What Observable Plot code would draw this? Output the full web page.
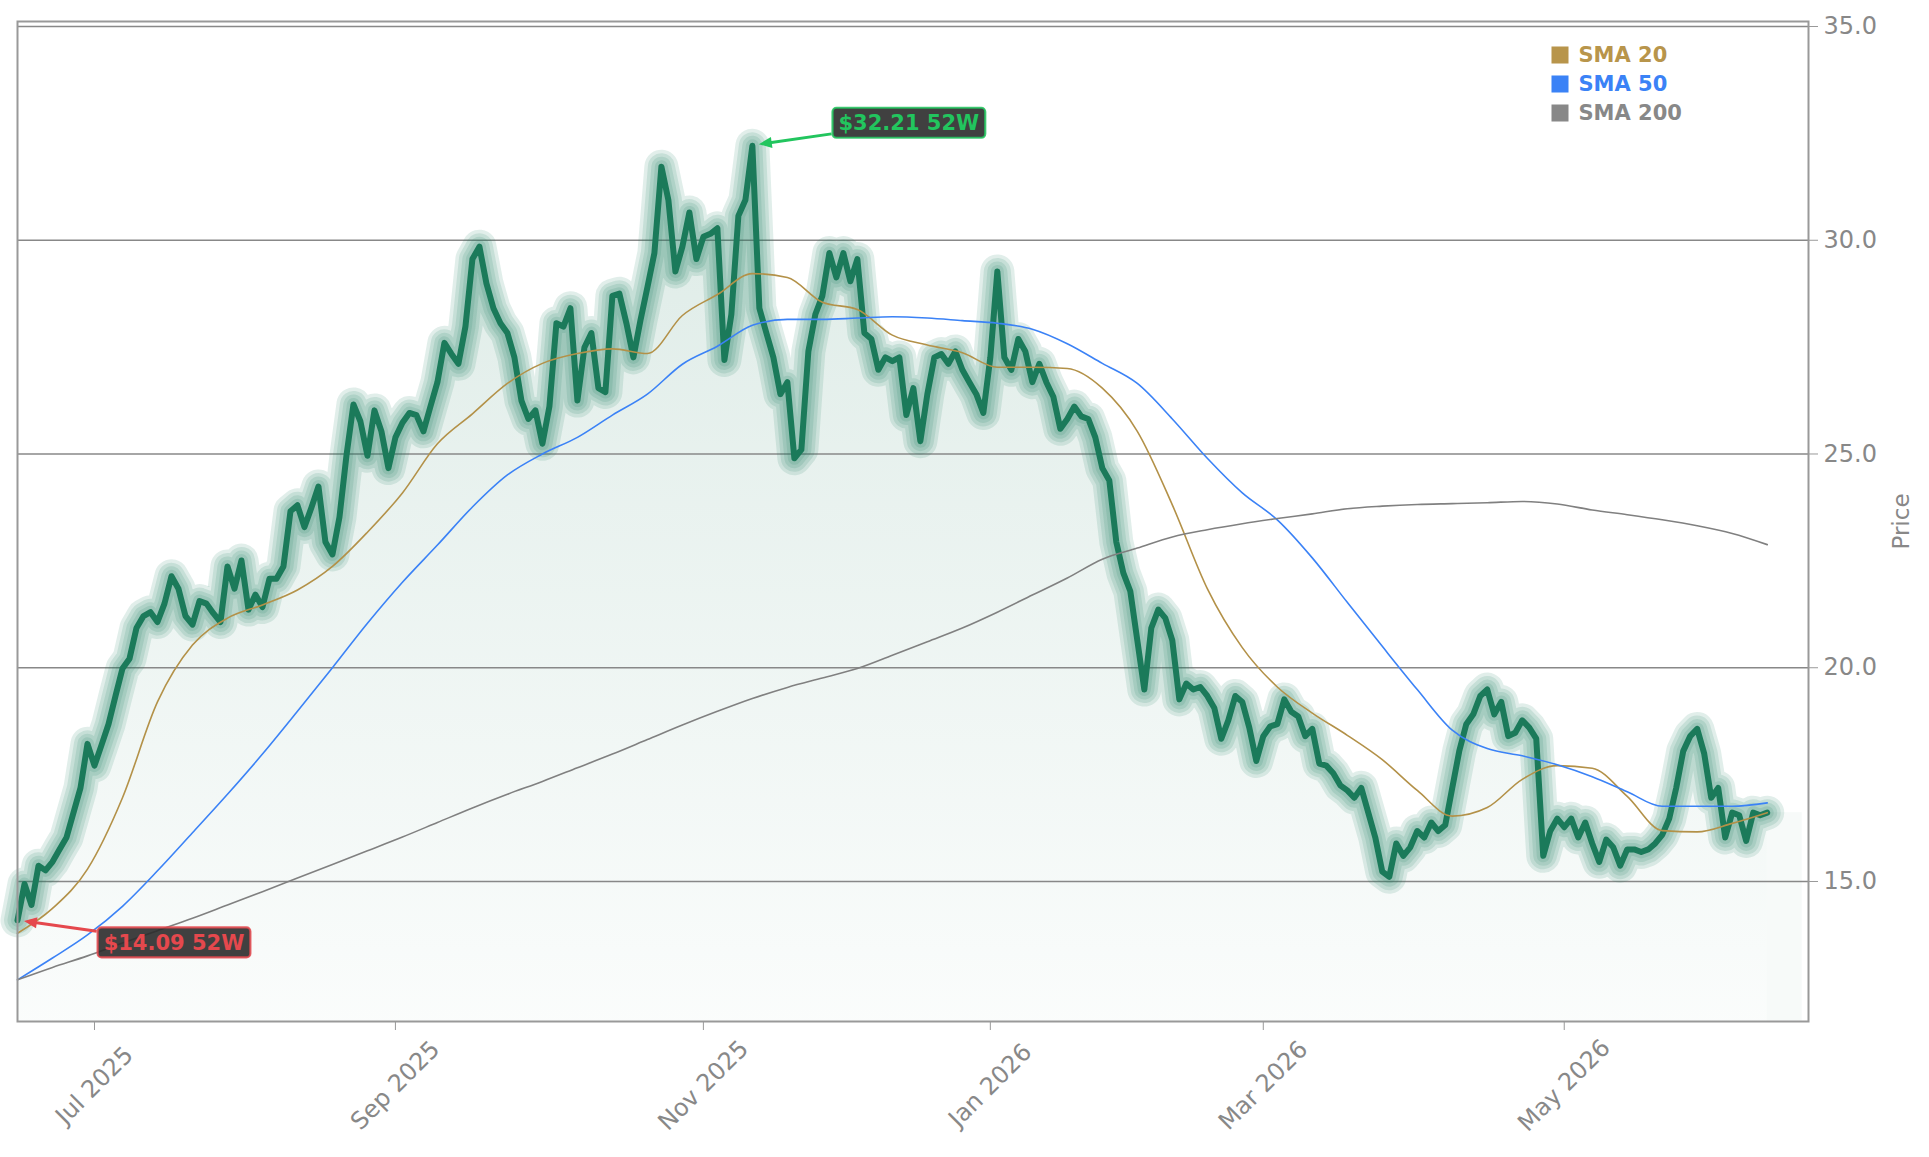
<!DOCTYPE html>
<html>
<head>
<meta charset="utf-8">
<script src="https://cdn.jsdelivr.net/npm/d3@7"></script>
<script src="https://cdn.jsdelivr.net/npm/@observablehq/plot@0.6"></script>
<style>
  html, body { margin: 0; padding: 0; background: #fff; }
  #chart svg { display: block; }
</style>
</head>
<body>
<div id="chart"></div>
<script>
// Daily closing prices, one per trading session (session 0 = Jun 13 2025)
const closes = [
  14.09, 14.94, 14.45, 15.37, 15.26, 15.46, 15.75, 16.03, 16.61, 17.19,
  18.22, 17.71, 18.19, 18.68, 19.34, 19.98, 20.21, 20.93, 21.21, 21.30,
  21.07, 21.50, 22.14, 21.85, 21.21, 21.01, 21.56, 21.50, 21.27, 21.07,
  22.37, 21.85, 22.51, 21.36, 21.71, 21.42, 22.08, 22.08, 22.37, 23.66,
  23.80, 23.29, 23.75, 24.24, 22.94, 22.65, 23.52, 24.96, 26.16, 25.76,
  24.96, 26.02, 25.53, 24.67, 25.39, 25.73, 25.96, 25.91, 25.53, 26.11,
  26.68, 27.60, 27.34, 27.11, 27.98, 29.56, 29.85, 28.99, 28.41, 28.06,
  27.83, 27.26, 26.25, 25.82, 26.02, 25.24, 26.11, 28.06, 27.98, 28.41,
  26.25, 27.49, 27.83, 26.54, 26.45, 28.70, 28.75, 28.06, 27.26, 28.12,
  28.90, 29.70, 31.72, 30.94, 29.27, 29.85, 30.65, 29.56, 30.08, 30.15,
  30.28, 27.20, 28.27, 30.57, 30.94, 32.21, 28.41, 27.83, 27.26, 26.40,
  26.68, 24.90, 25.10, 27.40, 28.27, 28.70, 29.70, 29.13, 29.70, 29.04,
  29.56, 27.83, 27.69, 26.97, 27.26, 27.17, 27.26, 25.91, 26.54, 25.30,
  26.40, 27.26, 27.34, 27.11, 27.40, 26.97, 26.68, 26.40, 25.96, 27.26,
  29.27, 27.26, 26.97, 27.69, 27.40, 26.68, 27.11, 26.68, 26.34, 25.59,
  25.82, 26.11, 25.88, 25.82, 25.39, 24.67, 24.38, 22.94, 22.22, 21.79,
  20.64, 19.49, 20.93, 21.36, 21.16, 20.64, 19.26, 19.63, 19.49, 19.55,
  19.34, 19.06, 18.34, 18.77, 19.34, 19.20, 18.60, 17.82, 18.40, 18.63,
  18.68, 19.26, 18.97, 18.86, 18.40, 18.57, 17.76, 17.71, 17.53, 17.25,
  17.13, 16.96, 17.19, 16.61, 16.03, 15.23, 15.11, 15.89, 15.60, 15.80,
  16.18, 16.03, 16.38, 16.18, 16.32, 17.19, 18.05, 18.68, 18.91, 19.34,
  19.49, 18.91, 19.20, 18.40, 18.48, 18.77, 18.60, 18.34, 15.60, 16.18,
  16.47, 16.27, 16.47, 16.03, 16.38, 15.89, 15.46, 15.98, 15.80, 15.37,
  15.75, 15.75, 15.69, 15.75, 15.89, 16.09, 16.47, 17.19, 18.05, 18.40,
  18.57, 17.99, 16.96, 17.19, 16.03, 16.61, 16.55, 15.95, 16.61, 16.55,
  16.61
];

// Moving averages, sampled every 5 sessions (session 0, 5, 10, ... 250)
const smaStep = 5;
const sma20 = [
  13.79, 14.37, 15.29, 16.96, 19.20, 20.53, 21.16, 21.47, 21.82, 22.37,
  23.17, 24.09, 25.24, 25.94, 26.65, 27.12, 27.35, 27.46, 27.35, 28.24,
  28.73, 29.22, 29.13, 28.55, 28.38, 27.78, 27.55, 27.37, 27.03, 27.03,
  27.00, 26.54, 25.53, 23.81, 21.85, 20.47, 19.55, 18.94, 18.42, 17.85,
  17.13, 16.53, 16.73, 17.39, 17.71, 17.65, 16.99, 16.19, 16.16, 16.36,
  16.61
];
const sma50 = [
  12.70, 13.21, 13.75, 14.42, 15.25, 16.14, 17.04, 17.98, 18.98, 20.00,
  21.04, 22.00, 22.87, 23.76, 24.51, 25.00, 25.39, 25.91, 26.40, 27.10,
  27.52, 28.01, 28.15, 28.15, 28.18, 28.21, 28.18, 28.12, 28.06, 27.92,
  27.58, 27.12, 26.65, 25.82, 24.90, 24.09, 23.46, 22.57, 21.53, 20.50,
  19.49, 18.54, 18.11, 17.94, 17.73, 17.45, 17.10, 16.76, 16.76, 16.76,
  16.84
];
const sma200 = [
  12.70, 12.99, 13.26, 13.56, 13.85, 14.14, 14.45, 14.76, 15.08, 15.40,
  15.72, 16.04, 16.38, 16.72, 17.04, 17.34, 17.66, 17.98, 18.32, 18.66,
  18.98, 19.28, 19.54, 19.76, 19.98, 20.29, 20.61, 20.93, 21.30, 21.70,
  22.10, 22.54, 22.80, 23.06, 23.23, 23.37, 23.49, 23.60, 23.72, 23.78,
  23.82, 23.84, 23.86, 23.89, 23.83, 23.69, 23.58, 23.46, 23.32, 23.14,
  22.88
];

// First session of each labelled month
const tickSessions = [11, 54, 98, 139, 178, 221];
const tickLabels = ["Jul 2025", "Sep 2025", "Nov 2025", "Jan 2026", "Mar 2026", "May 2026"];
const priceTicks = [15, 20, 25, 30, 35];

const legendNames = ["SMA 20", "SMA 50", "SMA 200"];
const legendColors = ["#b8954b", "#3b82f6", "#888888"];

const priceColor = "#1b7a5a";
const font = "DejaVu Sans, Liberation Sans, sans-serif";

const price = closes.map((v, i) => ({i, v}));
const smaSeries = (arr) => arr.map((v, k) => ({i: k * smaStep, v}));
const lastIdx = closes.length - 1;
const xMax = 255.9;
const yDomain = [11.725, 35.117];

// 52-week extremes
const hiIdx = d3.maxIndex(closes), loIdx = d3.minIndex(closes);
const extremes = [
  {i: hiIdx, v: closes[hiIdx], side: -1, color: "#22c55e", label: `$${closes[hiIdx].toFixed(2)} 52W`},
  {i: loIdx, v: closes[loIdx], side: 1, color: "#e5484d", label: `$${closes[loIdx].toFixed(2)} 52W`}
];

// Callout boxes with arrows for the extremes, placed through the plot scales
function callouts(index, scales, values, dims, context) {
  const doc = context.document;
  const g = d3.select(doc.createElementNS("http://www.w3.org/2000/svg", "g"));
  const ctx = doc.createElement("canvas").getContext("2d");
  ctx.font = "bold 21px 'DejaVu Sans'";
  for (const a of extremes) {
    const px = scales.x(a.i), py = scales.y(a.v);
    const cx = px + 157, cy = py + a.side * 22.5;
    const w = ctx.measureText(a.label).width + 12, h = 30;
    const dx = px - cx, dy = py - cy;
    const t = (w / 2 + 1) / Math.abs(dx);
    const sx = cx + dx * t, sy = cy + dy * t;
    const len = Math.hypot(px - sx, py - sy);
    const ux = (px - sx) / len, uy = (py - sy) / len;
    const tipX = px - ux * 7, tipY = py - uy * 7;
    const headL = 13, headW = 5.5;
    const bx = tipX - ux * headL, by = tipY - uy * headL;
    g.append("line")
      .attr("x1", sx).attr("y1", sy).attr("x2", bx + ux * 2).attr("y2", by + uy * 2)
      .attr("stroke", a.color).attr("stroke-width", 3);
    g.append("path")
      .attr("d", `M${tipX},${tipY}L${bx - uy * headW},${by + ux * headW}L${bx + uy * headW},${by - ux * headW}Z`)
      .attr("fill", a.color);
    g.append("rect")
      .attr("x", cx - w / 2).attr("y", cy - h / 2).attr("width", w).attr("height", h)
      .attr("rx", 4).attr("fill", "#2b2b2b").attr("fill-opacity", 0.9)
      .attr("stroke", a.color).attr("stroke-width", 2.2).attr("stroke-opacity", 0.85);
    g.append("text")
      .attr("x", cx).attr("y", cy).attr("dy", "0.36em")
      .attr("text-anchor", "middle")
      .attr("font-family", font).attr("font-weight", "bold").attr("font-size", 21)
      .attr("fill", a.color).text(a.label);
  }
  return g.node();
}

const glowWidths = [34, 27, 20, 13];

const marks = [
  // gradient fill under the price line
  Plot.areaY(price, {x: "i", y1: yDomain[0], y2: "v", fill: "url(#priceFill)"}),
  Plot.rectY([closes[lastIdx]], {x1: lastIdx, x2: 255, y1: yDomain[0], y2: d => d, fill: priceColor, fillOpacity: 0.035}),
  Plot.gridY(priceTicks, {stroke: "#888", strokeOpacity: 1, strokeWidth: 1.4}),
  // soft glow around the price line
  ...glowWidths.map(w => Plot.line(price, {x: "i", y: "v", stroke: priceColor, strokeOpacity: 0.13, strokeWidth: w, strokeLinejoin: "round", strokeLinecap: "round"})),
  Plot.line(price, {x: "i", y: "v", stroke: priceColor, strokeWidth: 6, strokeLinejoin: "round", strokeLinecap: "round"}),
  Plot.line(smaSeries(sma20), {x: "i", y: "v", stroke: "#b39148", strokeWidth: 1.6, curve: "monotone-x"}),
  Plot.line(smaSeries(sma50), {x: "i", y: "v", stroke: "#3b82f6", strokeWidth: 1.6, curve: "monotone-x"}),
  Plot.line(smaSeries(sma200), {x: "i", y: "v", stroke: "#808080", strokeWidth: 1.6, curve: "monotone-x"}),
  Plot.frame({stroke: "#999", strokeWidth: 2}),
  Plot.axisX(tickSessions, {tickSize: 9, tickFormat: () => "", stroke: "#999", label: null}),
  Plot.text(tickSessions, {x: d => d, frameAnchor: "bottom", dy: 64, rotate: -45, text: (d, k) => tickLabels[k],
    textAnchor: "middle", lineAnchor: "middle", fill: "#888", fontSize: 24}),
  Plot.axisY(priceTicks, {anchor: "right", tickSize: 9, tickPadding: 6, tickFormat: d => d.toFixed(1),
    stroke: "#999", fill: "#888", fontSize: 24, label: null}),
  Plot.text(["Price"], {frameAnchor: "right", dx: 93, rotate: -90, textAnchor: "middle", lineAnchor: "middle", fill: "#888", fontSize: 23}),
  callouts
];

// legend entries in the top-right corner of the frame
legendNames.forEach((name, k) => {
  marks.push(Plot.dot([name], {frameAnchor: "top-left", dx: 1542.5, dy: 33.5 + k * 29, symbol: "square", r: 9.6, fill: legendColors[k], stroke: null}));
  marks.push(Plot.text([name], {frameAnchor: "top-left", dx: 1561, dy: 33.5 + k * 29, textAnchor: "start", lineAnchor: "middle",
    fill: legendColors[k], fontWeight: "bold", fontSize: 21}));
});

const chart = Plot.plot({
  width: 1929,
  height: 1157,
  marginLeft: 17,
  marginRight: 121,
  marginTop: 21,
  marginBottom: 136,
  style: {fontFamily: font, background: "#fff", overflow: "visible"},
  x: {type: "linear", domain: [0, xMax]},
  y: {type: "linear", domain: yDomain},
  marks
});

const svg = d3.select(chart);
const grad = svg.insert("defs", ":first-child").append("linearGradient")
  .attr("id", "priceFill").attr("x1", 0).attr("y1", 0).attr("x2", 0).attr("y2", 1);
grad.append("stop").attr("offset", 0).attr("stop-color", priceColor).attr("stop-opacity", 0.15);
grad.append("stop").attr("offset", 1).attr("stop-color", priceColor).attr("stop-opacity", 0.02);

document.getElementById("chart").appendChild(chart);
</script>
</body>
</html>
